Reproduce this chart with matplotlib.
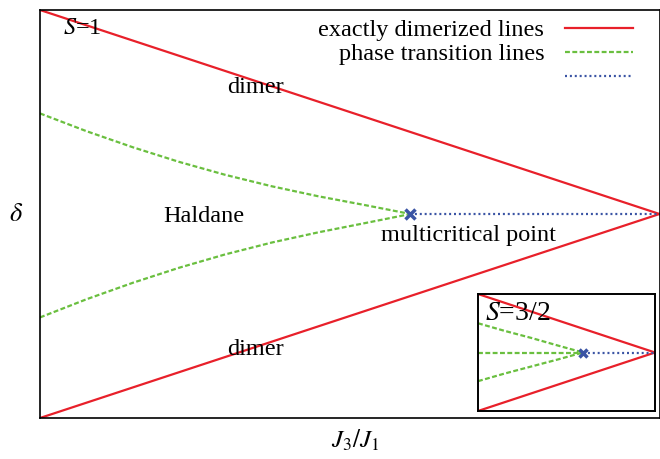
import matplotlib
matplotlib.use("Agg")
import matplotlib.pyplot as plt
import numpy as np

plt.rcParams['font.family'] = ['Liberation Serif', 'DejaVu Serif']
plt.rcParams['mathtext.fontset'] = 'stix'

# exactly dimerized lines
dimer_x = [0.0, 1.0]
dimer_upper = [1.0, 0.0]
dimer_lower = [-1.0, 0.0]

# phase transition lines (S=1)
trans_x = [0.0, 0.075, 0.150, 0.224, 0.299, 0.374, 0.449, 0.524, 0.598]
trans_upper = [0.493, 0.406, 0.327, 0.256, 0.192, 0.136, 0.087, 0.044, 0.0]
trans_lower = [-0.507, -0.418, -0.337, -0.264, -0.198, -0.140, -0.090, -0.045, 0.0]

# multicritical point and line beyond it
mc_x, mc_y = 0.598, 0.0
crit_x = [0.598, 1.0]
crit_y = [0.0, 0.0]

# inset, S=3/2
in_trans_x = [0.0, 0.15, 0.30, 0.45, 0.593]
in_trans_upper = [0.50, 0.37, 0.25, 0.12, 0.0]
in_trans_lower = [-0.49, -0.36, -0.24, -0.12, 0.0]
in_mid_x = [0.0, 0.593]
in_mid_y = [0.0, 0.0]
in_mc_x = 0.593
in_crit_x = [0.593, 1.0]

red = '#e8202a'
green = '#6abf3f'
blue = '#3a54a4'

W, H = 660, 459
fig = plt.figure(figsize=(W / 100, H / 100), dpi=100)
ax = fig.add_axes([40 / W, (H - 418) / H, 619.5 / W, 408 / H])

l1, = ax.plot(dimer_x, dimer_upper, color=red, lw=1.6)
ax.plot(dimer_x, dimer_lower, color=red, lw=1.6)
l2, = ax.plot(trans_x, trans_upper, color=green, lw=1.6, dashes=(2.2, 1.1))
ax.plot(trans_x, trans_lower, color=green, lw=1.6, dashes=(2.2, 1.1))
l3, = ax.plot(crit_x, crit_y, color=blue, lw=1.6, dashes=(0.9, 1.3))
ax.plot([mc_x], [mc_y], marker='x', color=blue, ms=7, mew=2.5)

ax.set_xlim(0, 1)
ax.set_ylim(-1, 1)
ax.set_xticks([])
ax.set_yticks([])
for s in ax.spines.values():
    s.set_linewidth(1.2)

fs = 17.5
ax.text(0.037, 0.955, '$S$=1', transform=ax.transAxes, fontsize=fs, va='center', ha='left')
ax.text(0.347, 0.81, 'dimer', transform=ax.transAxes, fontsize=fs, ha='center', va='center')
ax.text(0.265, 0.495, 'Haldane', transform=ax.transAxes, fontsize=fs, ha='center', va='center')
ax.text(0.692, 0.447, 'multicritical point', transform=ax.transAxes, fontsize=fs, ha='center', va='center')
ax.text(0.347, 0.168, 'dimer', transform=ax.transAxes, fontsize=fs, ha='center', va='center')

fig.text(16 / W, (H - 215) / H, r'$\delta$', fontsize=19, ha='center', va='center')
fig.text(355 / W, (H - 440) / H, r'$J_3/J_1$', fontsize=18, ha='center', va='center')

leg = ax.legend([l1, l2, l3], ['exactly dimerized lines', 'phase transition lines', ''],
                loc='upper right', bbox_to_anchor=(633 / W, (H - 19) / H),
                bbox_transform=fig.transFigure, frameon=False, fontsize=fs,
                markerfirst=False, handlelength=2.8, handletextpad=0.85,
                labelspacing=0.1, borderpad=0, borderaxespad=0)
for col in leg._legend_handle_box.get_children():
    col.align = 'right'

# inset
axi = fig.add_axes([478 / W, (H - 411) / H, 177 / W, 117 / H])
axi.plot(dimer_x, dimer_upper, color=red, lw=1.6)
axi.plot(dimer_x, dimer_lower, color=red, lw=1.6)
axi.plot(in_trans_x, in_trans_upper, color=green, lw=1.6, dashes=(2.2, 1.1))
axi.plot(in_trans_x, in_trans_lower, color=green, lw=1.6, dashes=(2.2, 1.1))
axi.plot(in_mid_x, in_mid_y, color=green, lw=1.6, dashes=(2.2, 1.1))
axi.plot(in_crit_x, [0, 0], color=blue, lw=1.6, dashes=(0.9, 1.3))
axi.plot([in_mc_x], [0], marker='x', color=blue, ms=6, mew=2.5)
axi.set_xlim(0, 1)
axi.set_ylim(-1, 1)
axi.set_xticks([])
axi.set_yticks([])
for s in axi.spines.values():
    s.set_linewidth(1.4)
axi.text(0.04, 0.83, '$S$=3/2', transform=axi.transAxes, fontsize=20, ha='left', va='center')

fig.savefig('out.png', dpi=100)
